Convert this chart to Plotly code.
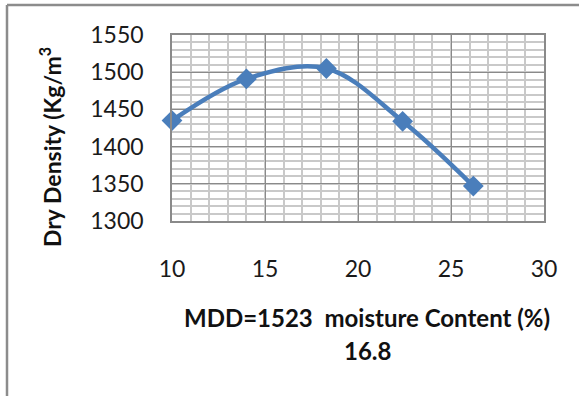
import plotly.graph_objects as go

# Compaction test: moisture content (%) vs dry density (kg/m3)
moisture = [10.0, 14.0, 18.3, 22.4, 26.2]
dry_density = [1435, 1491, 1505, 1434, 1347]

x_ticks = [10, 15, 20, 25, 30]
y_ticks = [1300, 1350, 1400, 1450, 1500, 1550]

FONT = "Lato"
BLUE = "#4A7EBB"
MAJOR = "#8a8a8a"
MINOR = "#c9c9c9"

# plot-area geometry in pixels (for placing paper-referenced extras)
W, H = 579, 396
L, R, T, B = 172, 544, 35, 221
pw, ph = R - L, B - T


def px(xp):
    return (xp - L) / pw


def py(yp):
    return (B - yp) / ph


fig = go.Figure()
fig.add_trace(go.Scatter(
    x=moisture, y=dry_density,
    mode="lines+markers",
    line=dict(color=BLUE, width=4.5, shape="spline", smoothing=1.0),
    marker=dict(symbol="diamond", size=16, color=BLUE),
    showlegend=False,
    cliponaxis=False,
))

axis_common = dict(
    showline=True, mirror=True, linecolor=MAJOR, linewidth=1.5,
    showgrid=True, gridcolor=MAJOR, gridwidth=1,
    zeroline=False,
    ticks="outside", tickcolor="rgba(0,0,0,0)",
    tickfont=dict(family=FONT, size=23, color="#1a1a1a"),
)

fig.update_xaxes(
    range=[10, 30], tickvals=x_ticks, ticklen=27,
    minor=dict(dtick=1, showgrid=True, gridcolor=MINOR, gridwidth=1.5),
    **axis_common,
)
fig.update_yaxes(
    range=[1300, 1550], tickvals=y_ticks, ticklen=22,
    minor=dict(dtick=10, showgrid=True, gridcolor=MINOR, gridwidth=1.5),
    **axis_common,
)

title_font = dict(family=FONT, size=24, color="#111111", weight="bold")
fig.add_annotation(
    text="MDD=1523  moisture Content (%)", xref="paper", yref="paper",
    x=px(367), y=py(317), xanchor="center", yanchor="middle",
    showarrow=False, font=title_font,
)
fig.add_annotation(
    text="16.8", xref="paper", yref="paper",
    x=px(367), y=py(350), xanchor="center", yanchor="middle",
    showarrow=False, font=title_font,
)
fig.add_annotation(
    text="Dry Density (Kg/m<sup>3</sup>", xref="paper", yref="paper",
    x=px(50), y=py(147), xanchor="center", yanchor="middle",
    textangle=-90, showarrow=False,
    font=dict(family=FONT, size=23, color="#111111", weight="bold"),
)

# outer chart frame (top and left edges)
frame = dict(color="#8c8c8c", width=2.5)
fig.add_shape(type="line", xref="paper", yref="paper",
              x0=px(7), y0=py(5), x1=px(W + 5), y1=py(5), line=frame)
fig.add_shape(type="line", xref="paper", yref="paper",
              x0=px(7), y0=py(5), x1=px(7), y1=py(H + 5), line=frame)

fig.update_layout(
    width=W, height=H,
    margin=dict(l=L, r=W - R, t=T, b=H - B),
    paper_bgcolor="white", plot_bgcolor="white",
)

fig.write_html("out.html")
